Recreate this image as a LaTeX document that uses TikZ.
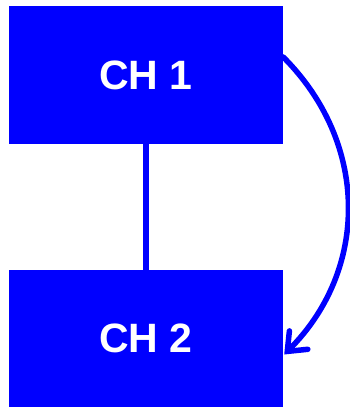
\documentclass[tikz,border=0pt]{standalone}
\usepackage{fontspec}
\setmainfont{Liberation Sans}
\usetikzlibrary{arrows.meta}
\begin{document}
\begin{tikzpicture}[x=1pt,y=1pt,
  chbox/.style={fill=blue, draw=none, minimum width=274pt, minimum height=138pt, inner sep=0pt,
    text=white, font=\fontsize{41}{41}\selectfont\bfseries},
  conn/.style={draw=blue, line width=5.5pt}]
\useasboundingbox (0,0) rectangle (349,407);
\node[chbox] (a) at (146,332) {CH 1};
\node[chbox, minimum height=137pt] (b) at (146,68.5) {CH 2};
\draw[conn] (a.south) -- (b.north);
\coordinate (s) at ([yshift=18pt]a.east);
\coordinate (e) at ([yshift=-16pt,xshift=1pt]b.east);
\draw[conn, -{Straight Barb[length=16pt,width=26pt,line cap=round]}, line cap=round]
  (s) .. controls +(86,-86) and +(85,85) .. (e);
\end{tikzpicture}
\end{document}
